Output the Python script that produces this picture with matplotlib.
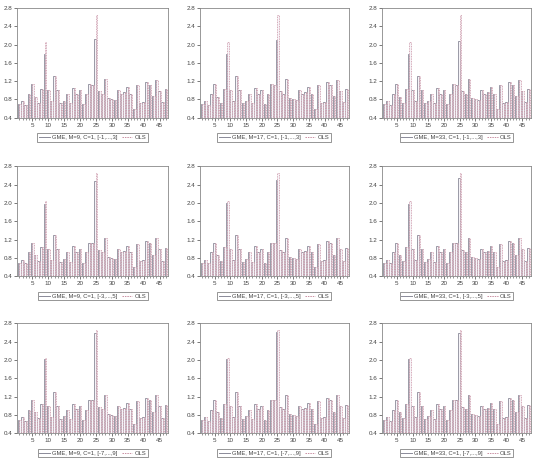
import matplotlib
matplotlib.use("Agg")
import matplotlib.pyplot as plt
import numpy as np
from matplotlib.lines import Line2D

plt.rcParams['font.family'] = ['Liberation Sans', 'DejaVu Sans']

obs = list(range(1, 48))
ols = [0.70, 0.76, 0.68, 0.92, 1.13, 0.86, 0.73, 1.03, 2.05, 1.00,
       0.76, 1.31, 1.00, 0.72, 0.77, 0.92, 0.72, 1.05, 0.93, 1.00,
       0.70, 0.92, 1.13, 1.12, 2.65, 0.98, 0.93, 1.24, 0.83, 0.80,
       0.78, 1.00, 0.93, 0.96, 1.07, 0.93, 0.60, 1.11, 0.73, 0.75,
       1.18, 1.12, 0.87, 1.23, 0.99, 0.74, 1.02]

# GME estimates: equal to OLS except at observations 9 and 25 (read per panel)
gme_obs9 = [[1.80, 1.80, 1.80],
            [1.98, 1.99, 1.98],
            [2.03, 2.03, 2.03]]
gme_obs25 = [[2.12, 2.10, 2.07],
             [2.48, 2.50, 2.55],
             [2.60, 2.62, 2.60]]
m_values = [9, 17, 33]
supports = ["[-1,...,3]", "[-3,...,5]", "[-7,...,9]"]
yticks = [0.4, 0.8, 1.2, 1.6, 2.0, 2.4, 2.8]
xticks = [5, 10, 15, 20, 25, 30, 35, 40, 45]

fig = plt.figure(figsize=(5.39, 4.62), dpi=100)

lefts = [0.032, 0.371, 0.709]
widths = [0.280, 0.276, 0.276]
bottoms = [0.745, 0.402, 0.062]
height = 0.238

gme_col = '#8a8a98'
ols_col = '#c98fa2'
tc = '#444444'

for r in range(3):
    for c in range(3):
        ax = fig.add_axes([lefts[c], bottoms[r], widths[c], height])
        gme = list(ols)
        gme[8] = gme_obs9[r][c]
        gme[24] = gme_obs25[r][c]
        x = np.array(obs, dtype=float)
        w = 0.45
        ax.bar(x - w / 2, gme, width=w, bottom=0, facecolor='#f7f4f8',
               edgecolor=gme_col, linewidth=0.6)
        ax.bar(x + w / 2, ols, width=w, bottom=0, facecolor='#f7f4f8',
               edgecolor=ols_col, linewidth=0.6, linestyle=(0, (1, 1)))
        ax.set_ylim(0.4, 2.8)
        ax.set_xlim(0.3, 47.7)
        ax.set_yticks(yticks)
        ax.set_yticklabels([f"{v:.1f}" for v in yticks])
        ax.set_xticks(xticks)
        ax.set_xticks(obs, minor=True)
        ax.tick_params(axis='both', labelsize=4.5, colors=tc, length=2, width=0.5, pad=1.5)
        ax.tick_params(axis='x', which='minor', length=1.2, width=0.4, colors=tc)
        for s in ax.spines.values():
            s.set_linewidth(0.6)
            s.set_color('#888888')
        handles = [Line2D([0], [0], color=gme_col, lw=0.7),
                   Line2D([0], [0], color=ols_col, lw=0.7, linestyle=(0, (1.5, 1)))]
        labels = [f"GME, M={m_values[c]}, C=1, {supports[r]}", "OLS"]
        leg = ax.legend(handles, labels, loc='center', bbox_to_anchor=(0.5, -0.18),
                        ncol=2, fontsize=4.2, frameon=True, fancybox=False,
                        handlelength=1.8, handletextpad=0.4, columnspacing=0.7,
                        borderpad=0.3, edgecolor='#666666')
        leg.get_frame().set_linewidth(0.6)
        for t in leg.get_texts():
            t.set_color(tc)

fig.savefig("out.png", dpi=100, facecolor='white')
